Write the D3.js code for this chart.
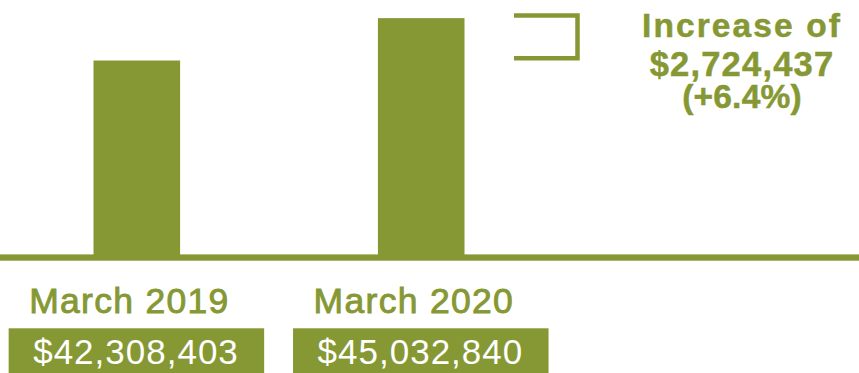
<!DOCTYPE html>
<html>
<head>
<meta charset="utf-8">
<script src="https://cdn.jsdelivr.net/npm/d3@7"></script>
<style>
  html, body { margin: 0; padding: 0; background: #fff; }
  svg { display: block; }
</style>
</head>
<body>
<svg id="chart" width="859" height="373"></svg>
<script>
// Fund balance, March 2019 vs March 2020
const periods = ["March 2019", "March 2020"];
const balances = [42308403, 45032840];
const valueLabels = ["$42,308,403", "$45,032,840"];
const changeLines = ["Increase of", "$2,724,437", "(+6.4%)"];

const olive = "#869834";
const svg = d3.select("#chart");

const x = d3.scalePoint().domain(periods).range([136.8, 421.2]);
const y = d3.scaleLinear().domain([29.8e6, 46.2e6]).range([255, 0]);
const barW = 86.6;

// bars
svg.selectAll("rect.bar")
  .data(periods)
  .join("rect")
  .attr("class", "bar")
  .attr("x", d => x(d) - barW / 2)
  .attr("y", (d, i) => y(balances[i]))
  .attr("width", barW)
  .attr("height", (d, i) => y(29.8e6) - y(balances[i]) + 2)
  .attr("fill", olive);

// baseline
svg.append("rect")
  .attr("x", 0).attr("y", 254.4)
  .attr("width", 859).attr("height", 6.3)
  .attr("fill", olive);

// bracket spanning the difference between the two bar tops
const yTop = y(balances[1]) - 2.6;
const yBot = y(balances[0]) - 2.3;
svg.append("path")
  .attr("d", `M514,${yTop} H577.5 V${yBot} H514`)
  .attr("fill", "none")
  .attr("stroke", olive)
  .attr("stroke-width", 4.5)
  .attr("stroke-linejoin", "miter");

// change annotation
const noteBaselines = [37.3, 75.5, 107.5];
const noteSizes = [33.5, 34.5, 33.5];
const noteSpacing = [2.1, 1.2, 0.2];
svg.selectAll("text.note")
  .data(changeLines)
  .join("text")
  .attr("class", "note")
  .attr("x", 742)
  .attr("y", (d, i) => noteBaselines[i])
  .attr("text-anchor", "middle")
  .attr("font-family", "'Liberation Sans', Arial, sans-serif")
  .attr("font-weight", "bold")
  .attr("font-size", (d, i) => noteSizes[i])
  .attr("letter-spacing", (d, i) => noteSpacing[i])
  .attr("fill", olive)
  .attr("stroke", olive)
  .attr("stroke-width", 0.5)
  .text(d => d);

// period labels
svg.selectAll("text.period")
  .data(periods)
  .join("text")
  .attr("class", "period")
  .attr("x", d => x(d) - 107.6)
  .attr("y", 312.7)
  .attr("font-family", "'Liberation Sans', Arial, sans-serif")
  .attr("font-size", 35.5)
  .attr("letter-spacing", 1.3)
  .attr("fill", olive)
  .attr("stroke", olive)
  .attr("stroke-width", 0.9)
  .text(d => d);

// value boxes
const boxW = 255.5;
svg.selectAll("rect.valbox")
  .data(periods)
  .join("rect")
  .attr("class", "valbox")
  .attr("x", d => x(d) - boxW / 2 - 0.4)
  .attr("y", 328.3)
  .attr("width", boxW)
  .attr("height", 60)
  .attr("fill", olive);

svg.selectAll("text.val")
  .data(periods)
  .join("text")
  .attr("class", "val")
  .attr("x", d => x(d) - 0.8)
  .attr("y", 364)
  .attr("text-anchor", "middle")
  .attr("font-family", "'Liberation Sans', Arial, sans-serif")
  .attr("font-size", 35)
  .attr("letter-spacing", 1)
  .attr("fill", "#fff")
  .text((d, i) => valueLabels[i]);
</script>
</body>
</html>
